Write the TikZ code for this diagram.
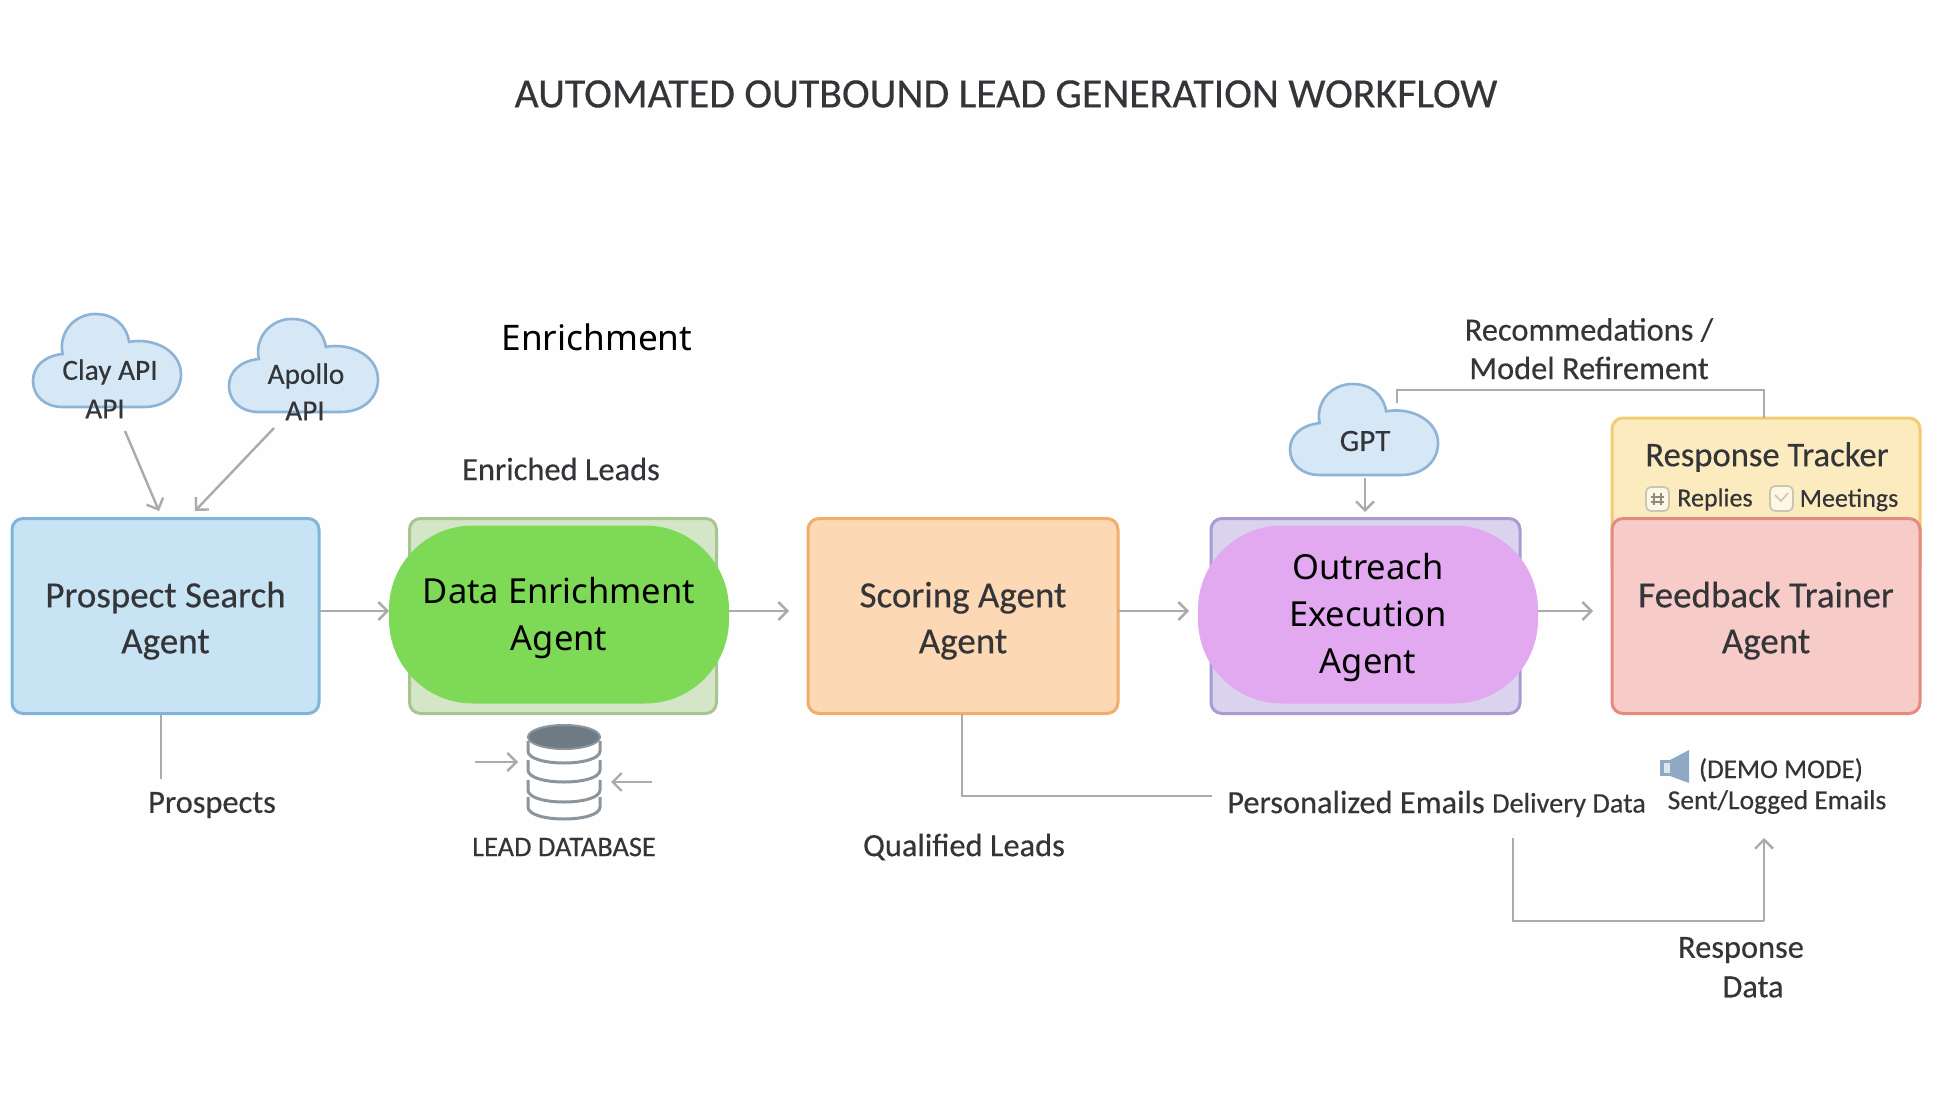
\documentclass[tikz,border=0pt]{standalone}
\usepackage{fontspec}
\setmainfont{Carlito}[FakeBold=0.35]
\newfontfamily\plexish{Noto Sans}
\usetikzlibrary{arrows.meta}
\definecolor{ink}{HTML}{333538}
\definecolor{wire}{HTML}{ABABAB}
\definecolor{cloudfill}{HTML}{D6E7F6}
\definecolor{cloudedge}{HTML}{8DB3D6}
\definecolor{prospectfill}{HTML}{C8E3F3}
\definecolor{prospectedge}{HTML}{7FB5D9}
\definecolor{datafill}{HTML}{D5E6C8}
\definecolor{dataedge}{HTML}{A5C68F}
\definecolor{scorefill}{HTML}{FCD9B4}
\definecolor{scoreedge}{HTML}{EFAE6B}
\definecolor{outfill}{HTML}{DAD3EE}
\definecolor{outedge}{HTML}{A99BD2}
\definecolor{feedfill}{HTML}{F7CCC8}
\definecolor{feededge}{HTML}{E58A80}
\definecolor{trackfill}{HTML}{FCEBBE}
\definecolor{trackedge}{HTML}{F2CC72}
\definecolor{blobgreen}{HTML}{7ED957}
\definecolor{blobpurple}{HTML}{E2A9F1}
\definecolor{dbtop}{HTML}{6E7B85}
\definecolor{dbline}{HTML}{8D959C}
\definecolor{speaker}{HTML}{8FA9C4}
\definecolor{iconedge}{HTML}{C9C7B4}
\newcommand{\toppad}[1]{\rule{0pt}{#1pt}}
\tikzset{
  agentbox/.style={draw,line width=3pt,rounded corners=11pt,inner sep=0pt,outer sep=0pt,align=center,text=ink,minimum width=307pt,minimum height=195pt,font=\fontsize{37}{46}\selectfont},
  blob/.style={fill=#1,draw=none,rounded corners=84pt,minimum width=340pt,minimum height=178pt,inner sep=0pt,outer sep=0pt,align=center,text=black,font=\plexish\fontsize{34.5}{47}\selectfont},
  label/.style={text=ink,inner sep=0pt,align=center},
  lab28/.style={label,font=\fontsize{28}{30}\selectfont},
  lab29/.style={label,font=\fontsize{29.3}{30}\selectfont},
  lab32/.style={label,font=\fontsize{32.4}{38}\selectfont},
  lab26/.style={label,font=\fontsize{26}{30}\selectfont},
  cloudbody/.style={fill=cloudfill,draw=cloudedge,line width=2.6pt},
  flow/.style={draw=wire,line width=2.4pt},
  arrowed/.style={flow,-{Straight Barb[length=9pt,width=18pt,line width=2.4pt]}},
  iconbox/.style={draw=iconedge,line width=1.8pt,rounded corners=5pt,fill=white!60!trackfill},
}
\newcommand{\cloudat}[4]{%
  \begin{scope}[shift={(#1,#2)},xscale=#3,yscale=#4]
    \path[cloudbody] (0.2,1) .. controls (0.08,1) and (0,0.88) .. (0,0.72)
      .. controls (0,0.56) and (0.08,0.45) .. (0.2,0.43)
      .. controls (0.17,0.2) and (0.28,0) .. (0.42,0)
      .. controls (0.55,0) and (0.63,0.12) .. (0.65,0.3)
      .. controls (0.82,0.25) and (1,0.4) .. (1,0.65)
      .. controls (1,0.85) and (0.9,1) .. (0.75,1) -- cycle;
  \end{scope}}
\newcommand{\diskat}[1]{%
  \draw[draw=dbline,line width=3pt,fill=white] (528,#1-10) -- (528,#1)
    .. controls (528,#1+16) and (600,#1+16) .. (600,#1) -- (600,#1-10);}
\begin{document}
\begin{tikzpicture}[x=1pt,y=-1pt]
\useasboundingbox (0,0) rectangle (1945,1099);
\fill[white!99.5!black] (0,0) rectangle (1945,1099);

\node[label,font=\fontsize{41.8}{46}\selectfont] (title) at (1006,94) {AUTOMATED OUTBOUND LEAD GENERATION WORKFLOW};
\node[text=black,inner sep=0pt,font=\plexish\fontsize{35.2}{40}\selectfont] (enrich) at (597,337) {Enrichment};

% clouds
\cloudat{33}{314}{148}{93}
\cloudat{229}{319}{149}{93}
\cloudat{1290}{384}{148}{91}
\node[lab29] (clay) at (110,372) {Clay API};
\node[lab29] (clayapi) at (105,409) {API};
\node[lab29] (apollo) at (306,376) {Apollo};
\node[lab29] (apolloapi) at (305,411) {API};
\node[label,font=\fontsize{31}{32}\selectfont] (gpt) at (1365,441) {GPT};

% tracker behind feedback
\node[agentbox,fill=trackfill,draw=trackedge,minimum width=308pt,minimum height=160pt] (tracker) at (1766,498) {};

% boxes
\node[agentbox,fill=prospectfill,draw=prospectedge] (prospect) at (165.5,616) {\toppad{35}Prospect Search\\Agent};
\node[agentbox,fill=datafill,draw=dataedge] (data) at (563,616) {};
\node[agentbox,fill=scorefill,draw=scoreedge,minimum width=310pt] (score) at (963,616) {\toppad{35}Scoring Agent\\Agent};
\node[agentbox,fill=outfill,draw=outedge,minimum width=309pt] (out) at (1365.5,616) {};
\node[agentbox,fill=feedfill,draw=feededge,minimum width=308pt] (feed) at (1766,616) {\toppad{35}Feedback Trainer\\Agent};

% overlaid blobs
\node[blob=blobgreen] (datablob) at (559,614.5) {\toppad{33}Data Enrichment\\Agent};
\node[blob=blobpurple] (outblob) at (1368,614.5) {\toppad{32}Outreach\\Execution\\Agent};

% tracker contents
\node[label,font=\fontsize{34.6}{36}\selectfont] (tracktitle) at (1767,457) {Response Tracker};
\node[lab26] (replies) at (1715,499.5) {Replies};
\node[lab26] (meetings) at (1849,500) {Meetings};
\draw[iconbox] (1646,487) rectangle (1669,511);
\draw[iconedge!70!black,line width=1.2pt] (1654,493) -- (1654,505) (1661,493) -- (1661,505) (1651,497) -- (1664,497) (1651,502) -- (1664,502);
\draw[iconbox] (1770,486) rectangle (1793,511);
\draw[iconedge,line width=1.6pt] (1775,495) -- (1781,501) -- (1788,493);

% labels
\node[lab32] (enriched) at (561,469) {Enriched Leads};
\node[lab32] (prospects) at (212,805) {Prospects};
\node[label,font=\fontsize{28.4}{30}\selectfont] (leaddb) at (564,847) {LEAD DATABASE};
\node[lab32] (qualified) at (964,847) {Qualified Leads};
\node[lab32] (personal) at (1356,802) {Personalized Emails};
\node[label,font=\fontsize{28.3}{30}\selectfont] (delivery) at (1569,805) {Delivery Data};
\node[label,font=\fontsize{27}{30}\selectfont] (demo) at (1781,770) {(DEMO MODE)};
\node[label,font=\fontsize{27.5}{30}\selectfont] (sent) at (1777,802) {Sent/Logged Emails};
\node[lab32] (response) at (1741,950) {Response};
\node[lab32] (respdata) at (1753,987) {Data};
\node[lab32] (recom) at (1589,330) {Recommedations /};
\node[lab32] (model) at (1589,368) {Model Refirement};

% free ends
\coordinate (clayfrom) at (125,431);
\coordinate (clayto) at (159,511);
\coordinate (apollofrom) at (274,428);
\coordinate (apolloto) at (195,511);
\coordinate (prosfrom) at (161,717);
\coordinate (prosto) at (161,779);
\coordinate (gptfrom) at (1365,478);
\coordinate (gptto) at (1365,512);
\coordinate (recfrom) at (1397,403);
\coordinate (scoremid) at (962,796);
\coordinate (scoreend) at (1212,796);
\coordinate (respfrom) at (1513,838);
\coordinate (respa) at (1513,921);
\coordinate (respb) at (1764,921);
\coordinate (respto) at (1764,838);
\coordinate (dbla) at (475,762);
\coordinate (dblb) at (518,762);
\coordinate (dbra) at (652,782);
\coordinate (dbrb) at (611,782);

% connectors
\draw[arrowed] (clayfrom) -- (clayto);
\draw[arrowed] (apollofrom) -- (apolloto);
\draw[flow] (prospect.south -| prosfrom) -- (prosto);
\draw[arrowed] ([yshift=5pt]prospect.east) -- ([yshift=3.5pt]datablob.west);
\draw[arrowed] ([yshift=3.5pt]datablob.east) -- ++(60,0) coordinate (dataout);
\draw[arrowed] ([yshift=5pt]score.east) -- ++(71,0) coordinate (scoreout);
\draw[arrowed] ([yshift=3.5pt]outblob.east) -- ++(55,0) coordinate (outout);
\draw[arrowed] (gptfrom) -- (gptto);
\draw[flow] (recfrom) |- (1764,390) -- (tracker.north -| 1764,0);
\draw[flow] (score.south -| scoremid) -- (scoremid) -- (scoreend);
\draw[flow] (respfrom) -- (respa) -- (respb);
\draw[arrowed] (respb) -- (respto);
\draw[arrowed] (dbla) -- (dblb);
\draw[arrowed] (dbra) -- (dbrb);

% database icon
\diskat{807}\diskat{790}\diskat{770}\diskat{751}
\draw[draw=dbline,line width=2pt,fill=dbtop] (564,737) ellipse (36pt and 12pt);

% speaker icon
\fill[speaker] (1660,760) rectangle (1672,776);
\fill[speaker] (1670,760) -- (1689,750) -- (1689,783) -- (1670,776) -- cycle;
\fill[white!70!speaker] (1664,763) rectangle (1670,773);
\end{tikzpicture}
\end{document}
